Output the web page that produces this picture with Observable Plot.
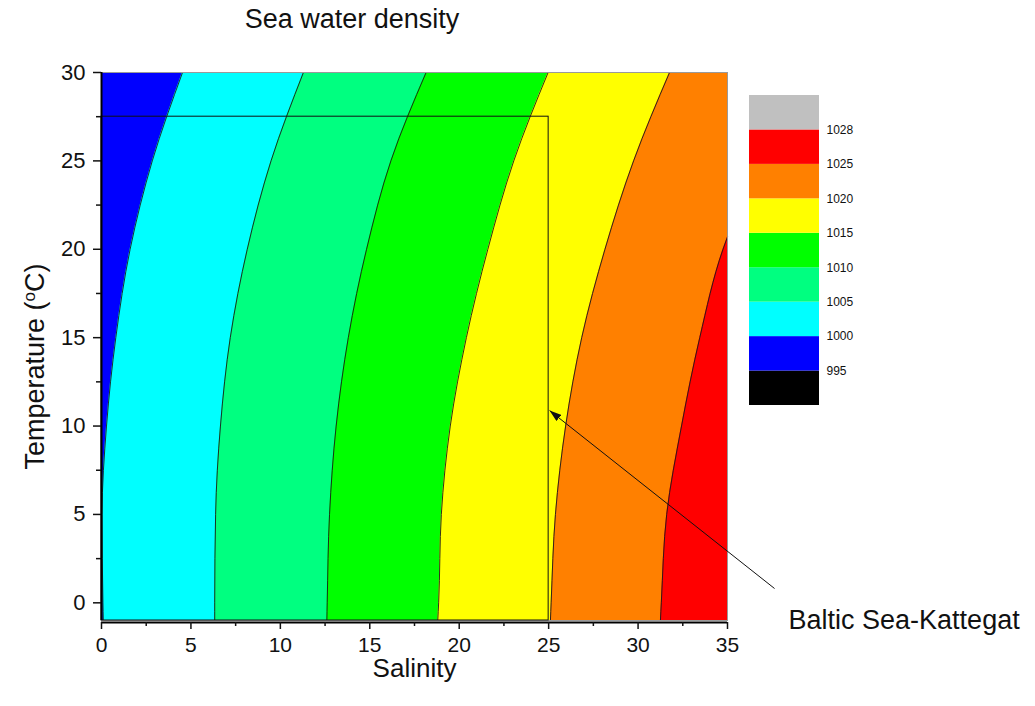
<!DOCTYPE html>
<html>
<head>
<meta charset="utf-8">
<script src="https://cdn.jsdelivr.net/npm/d3@7"></script>
<script src="https://cdn.jsdelivr.net/npm/@observablehq/plot@0.6"></script>
<style>
  body { margin: 0; background: #fff; }
  #chart { position: relative; width: 1035px; height: 706px; font-family: "Liberation Sans", Arial, sans-serif; }
  #chart > svg { display: block; }
  #title { position: absolute; left: 0; width: 704px; top: 4px; text-align: center; font-size: 27px; color: #111; }
  #legend { position: absolute; left: 749px; top: 95px; }
</style>
</head>
<body>
<div id="chart">
  <div id="title">Sea water density</div>
  <div id="legend"></div>
</div>
<script>
// Axis extents and ticks
const xDomain = [0, 35];
const yDomain = [-1, 30];
const xTicks = [0, 5, 10, 15, 20, 25, 30, 35];
const xMinorTicks = [2.5, 7.5, 12.5, 17.5, 22.5, 27.5, 32.5];
const yTicks = [0, 5, 10, 15, 20, 25, 30];
const yMinorTicks = [2.5, 7.5, 12.5, 17.5, 22.5, 27.5];

// Density levels (kg/m³) and the fill of each band between them
const levels = [995, 1000, 1005, 1010, 1015, 1020, 1025, 1028];
const bandColors = ["#000000", "#0000ff", "#00ffff", "#00ff80", "#00ff00", "#ffff00", "#ff8000", "#ff0000", "#c0c0c0"];

// Isopycnals: salinity at which each density level is reached, per temperature (°C)
const temps = [-1, 0, 5, 10, 15, 20, 25, 30];
const sal1000 = [0.1, 0.08, 0.03, 0.28, 0.8, 1.6, 2.84, 4.53];
const sal1005 = [6.33, 6.33, 6.38, 6.65, 7.2, 8.15, 9.48, 11.29];
const sal1010 = [12.6, 12.62, 12.75, 13.12, 13.8, 14.82, 16.18, 18.15];
const sal1015 = [18.8, 18.85, 19.0, 19.5, 20.4, 21.6, 23.05, 24.97];
const sal1020 = [25.1, 25.14, 25.38, 25.95, 26.85, 28.15, 29.75, 31.76];
const temps1025 = [-1, 0, 5, 10, 15, 20, 20.7];
const sal1025 = [31.25, 31.3, 31.6, 32.43, 33.45, 34.75, 35];

// Baltic Sea–Kattegat range and its callout
const regionSalinity = [0, 25];
const regionTemp = [-1, 27.5];
const calloutSalinity = [37.63, 25.05];
const calloutTemp = [0.81, 10.88];
const calloutLabel = "Baltic Sea-Kattegat";
const yTitle = "Temperature (oC)";

const rows = (t, s) => t.map((v, i) => ({t: v, s: s[i]}));
const contours = [
  {level: 1000, data: rows(temps, sal1000)},
  {level: 1005, data: rows(temps, sal1005)},
  {level: 1010, data: rows(temps, sal1010)},
  {level: 1015, data: rows(temps, sal1015)},
  {level: 1020, data: rows(temps, sal1020)},
  {level: 1025, data: rows(temps1025, sal1025)}
];
const colorAbove = (level) => bandColors[levels.indexOf(level) + 1];
const curve = "monotone-y";
const font = "'Liberation Sans', Arial, sans-serif";

const chart = Plot.plot({
  width: 1035,
  height: 706,
  marginTop: 72,
  marginLeft: 101,
  marginRight: 308,
  marginBottom: 86,
  style: {fontFamily: font, background: "white", overflow: "visible"},
  x: {domain: xDomain, label: null},
  y: {domain: yDomain, label: null},
  marks: [
    // lowest band fills the field, each isopycnal paints the denser side over it
    Plot.areaX(temps, {y: (d) => d, x1: xDomain[0], x2: xDomain[1], fill: colorAbove(995)}),
    ...contours.map((c) => Plot.areaX(c.data, {y: "t", x1: "s", x2: xDomain[1], fill: colorAbove(c.level), curve})),
    ...contours.map((c) => Plot.line(c.data, {x: "s", y: "t", curve, stroke: "#1a1a1a", strokeWidth: 0.9})),
    Plot.frame({stroke: "#9a9a9a", strokeWidth: 1}),
    Plot.rect({length: 1}, {
      x1: [regionSalinity[0]], x2: [regionSalinity[1]],
      y1: [regionTemp[0]], y2: [regionTemp[1]],
      fill: "none", stroke: "#111", strokeWidth: 1
    }),
    Plot.ruleX([xDomain[0]], {stroke: "black", strokeWidth: 2}),
    Plot.ruleY([yDomain[0]], {stroke: "black", strokeWidth: 2, dy: 2}),
    Plot.axisX(xTicks, {tickSize: 7, tickPadding: 8, fontSize: 21, strokeWidth: 1.5, color: "#111", label: null, dy: 2}),
    Plot.axisX(xMinorTicks, {tickSize: 4, tickFormat: () => "", strokeWidth: 1.5, color: "#111", label: null, dy: 2}),
    Plot.axisY(yTicks, {tickSize: 8, tickPadding: 8, fontSize: 22, strokeWidth: 1.5, color: "#111", label: null}),
    Plot.axisY(yMinorTicks, {tickSize: 5, tickFormat: () => "", strokeWidth: 1.5, color: "#111", label: null}),
    Plot.text(["Salinity"], {frameAnchor: "bottom", lineAnchor: "middle", dy: 48, fontSize: 26, fill: "#111"}),
    Plot.text([yTitle], {
      frameAnchor: "left", textAnchor: "middle", lineAnchor: "middle", rotate: -90,
      dx: -66, dy: 20, fontSize: 27, fill: "#111"
    }),
    Plot.link({length: 1}, {
      x1: [calloutSalinity[0]], y1: [calloutTemp[0]],
      x2: [calloutSalinity[1]], y2: [calloutTemp[1]],
      stroke: "#111", strokeWidth: 1
    }),
    Plot.text([calloutLabel], {
      x: [calloutSalinity[0]], y: [calloutTemp[0]],
      dx: 14, dy: 32, textAnchor: "start", lineAnchor: "middle", fontSize: 27, fill: "#111"
    })
  ]
});

const svg = d3.select(chart);

// degree sign of the y title set as a raised small "o"
svg.selectAll("text").filter(function () { return this.textContent === yTitle; }).each(function () {
  const t = d3.select(this);
  t.text(null);
  t.append("tspan").text("Temperature (");
  t.append("tspan").attr("font-size", 17).attr("dy", "-0.55em").text("o");
  t.append("tspan").attr("dy", "0.35em").text("C)");
});

// filled arrowhead on the callout line
svg.append("defs").append("marker")
  .attr("id", "callout-head")
  .attr("viewBox", "0 0 12 8")
  .attr("refX", 12).attr("refY", 4)
  .attr("markerWidth", 12).attr("markerHeight", 8)
  .attr("markerUnits", "userSpaceOnUse")
  .attr("orient", "auto")
  .append("path").attr("d", "M0,0L12,4L0,8Z").attr("fill", "#111");
svg.selectAll('g[aria-label="link"] path').attr("marker-end", "url(#callout-head)");

document.getElementById("chart").insertBefore(chart, document.getElementById("title"));

// Colour key: one box per density band, labels on the band edges
const legendBands = bandColors.map((c, i) => ({i, c}));
const legend = Plot.plot({
  width: 120,
  height: 310,
  marginTop: 0, marginBottom: 0, marginLeft: 0, marginRight: 50,
  style: {fontFamily: font, background: "transparent", overflow: "visible"},
  x: {domain: [0, 1], axis: null},
  y: {domain: [0, bandColors.length], axis: null},
  marks: [
    Plot.rect(legendBands, {x1: 0, x2: 1, y1: "i", y2: (d) => d.i + 1, fill: "c"}),
    Plot.text(levels, {x: 1, y: (d, i) => i + 1, text: (d) => String(d), dx: 7, textAnchor: "start", fontSize: 12, fill: "#111"})
  ]
});
document.getElementById("legend").appendChild(legend);
</script>
</body>
</html>
